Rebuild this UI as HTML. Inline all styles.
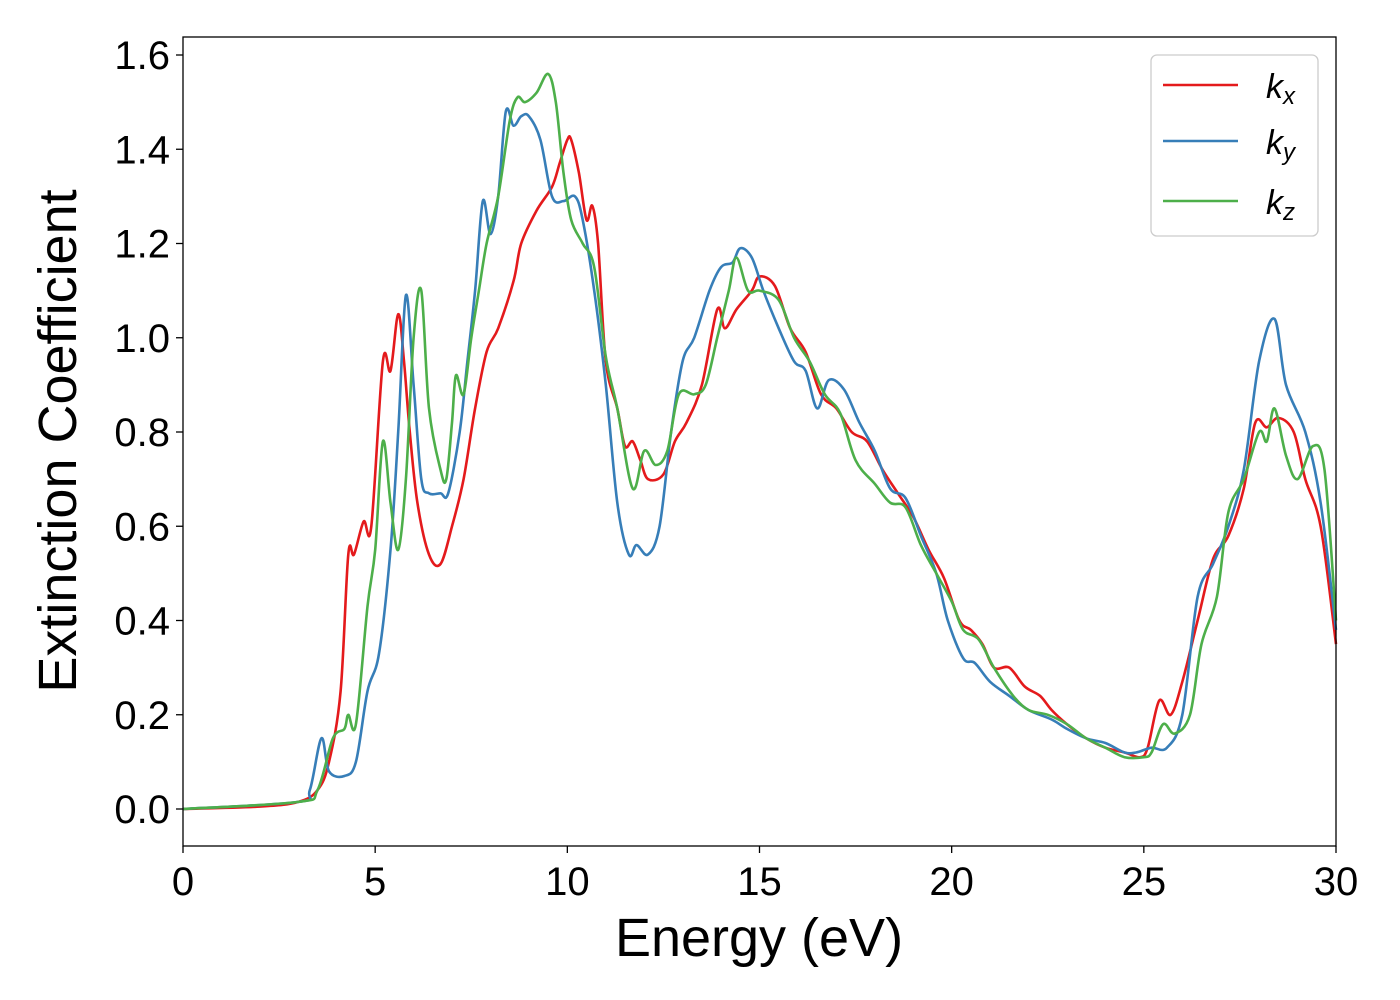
<!DOCTYPE html>
<html><head><meta charset="utf-8">
<style>
body{margin:0;background:#fff;}
svg{display:block;font-family:"Liberation Sans","DejaVu Sans",sans-serif;}
</style></head>
<body>
<svg id="chart" width="1400" height="1000" viewBox="0 0 1400 1000" xmlns="http://www.w3.org/2000/svg">
<rect width="1400" height="1000" fill="#fff"/>
<g id="series"></g>
<rect x="183" y="37" width="1153" height="809" fill="none" stroke="#000" stroke-width="1.3"/>
<g id="xticks"></g>
<g id="yticks"></g>
<text x="759" y="956" font-size="54" text-anchor="middle">Energy (eV)</text>
<text transform="translate(76,441) rotate(-90)" font-size="54" text-anchor="middle">Extinction Coefficient</text>
<g>
<rect x="1151" y="55" width="167" height="181" rx="6" fill="#fff" stroke="#ccc" stroke-width="1.3"/>
<g><line x1="1163" y1="85" x2="1238" y2="85" stroke="#e41a1c" stroke-width="2.5"/><text x="1266" y="98" font-size="34" font-style="italic">k<tspan font-size="24" dy="6">x</tspan></text></g>
<g><line x1="1163" y1="141" x2="1238" y2="141" stroke="#377eb8" stroke-width="2.5"/><text x="1266" y="154" font-size="34" font-style="italic">k<tspan font-size="24" dy="6">y</tspan></text></g>
<g><line x1="1163" y1="201" x2="1238" y2="201" stroke="#4daf4a" stroke-width="2.5"/><text x="1266" y="214" font-size="34" font-style="italic">k<tspan font-size="24" dy="6">z</tspan></text></g>
</g>
</svg>
<script>
const xTicks=[0,5,10,15,20,25,30];
const yTicks=[0.0,0.2,0.4,0.6,0.8,1.0,1.2,1.4,1.6];
const seriesNames=["kx","ky","kz"];
const seriesColors=["#e41a1c","#377eb8","#4daf4a"];
const kxE=[0,2,3,3.5,3.8,4.1,4.3,4.45,4.7,4.9,5.2,5.4,5.6,5.75,5.9,6.1,6.4,6.7,7,7.3,7.6,7.9,8.2,8.6,8.8,9.2,9.6,9.8,10,10.1,10.3,10.5,10.65,10.8,11,11.3,11.5,11.7,11.9,12.1,12.5,12.8,13.1,13.5,13.9,14.1,14.4,14.8,15,15.4,15.8,16.2,16.6,17,17.4,17.8,18.2,18.6,19,19.4,19.8,20.2,20.5,20.8,21.1,21.5,21.9,22.3,22.6,23,23.5,24,24.5,24.9,25.1,25.4,25.7,26,26.4,26.8,27.2,27.6,27.9,28.2,28.5,28.9,29.2,29.6,30];
const kxV=[0,0.005,0.015,0.04,0.1,0.25,0.54,0.54,0.61,0.6,0.95,0.93,1.05,0.95,0.8,0.65,0.54,0.52,0.6,0.7,0.85,0.97,1.02,1.12,1.2,1.27,1.32,1.37,1.42,1.42,1.35,1.25,1.28,1.2,0.95,0.85,0.77,0.78,0.74,0.70,0.71,0.78,0.82,0.9,1.06,1.02,1.06,1.1,1.13,1.11,1.02,0.97,0.88,0.85,0.8,0.78,0.72,0.67,0.62,0.55,0.49,0.40,0.38,0.35,0.3,0.3,0.26,0.24,0.21,0.18,0.15,0.13,0.12,0.11,0.13,0.23,0.2,0.27,0.4,0.53,0.58,0.68,0.82,0.81,0.83,0.8,0.7,0.6,0.35];
const kyE=[0,3,3.3,3.6,3.8,4.2,4.5,4.8,5.1,5.4,5.6,5.8,6.0,6.2,6.4,6.7,6.9,7.2,7.4,7.6,7.8,8.0,8.2,8.4,8.6,8.8,9.0,9.3,9.6,9.9,10.2,10.4,10.7,11,11.3,11.6,11.8,12.1,12.4,12.7,13.0,13.3,13.7,14.0,14.3,14.5,14.8,15.1,15.5,15.9,16.2,16.5,16.8,17.2,17.6,18.0,18.4,18.8,19.2,19.6,19.9,20.3,20.6,21,21.5,22,22.6,23,23.5,24,24.5,24.8,25.2,25.6,26,26.4,26.8,27.2,27.6,28,28.4,28.7,29.2,29.6,30];
const kyV=[0,0.015,0.04,0.15,0.08,0.07,0.1,0.25,0.33,0.55,0.8,1.09,0.9,0.7,0.67,0.67,0.67,0.8,0.95,1.1,1.29,1.22,1.3,1.48,1.45,1.47,1.47,1.42,1.3,1.29,1.3,1.25,1.1,0.9,0.65,0.54,0.56,0.54,0.6,0.8,0.95,1.0,1.1,1.15,1.16,1.19,1.17,1.1,1.02,0.95,0.93,0.85,0.91,0.89,0.82,0.76,0.68,0.66,0.58,0.5,0.4,0.32,0.31,0.27,0.24,0.21,0.19,0.17,0.15,0.14,0.12,0.12,0.13,0.13,0.2,0.45,0.52,0.6,0.72,0.95,1.04,0.9,0.8,0.65,0.38];
const kzE=[0,3,3.5,3.9,4.2,4.3,4.5,4.8,5.0,5.2,5.4,5.6,5.8,6.0,6.2,6.4,6.7,6.85,7.0,7.1,7.3,7.5,7.7,7.9,8.2,8.5,8.7,8.9,9.2,9.5,9.7,9.9,10.1,10.4,10.7,11,11.3,11.7,12.0,12.3,12.6,12.9,13.3,13.6,13.9,14.2,14.4,14.7,15.0,15.5,15.9,16.3,16.7,17.1,17.5,18,18.4,18.8,19.2,19.6,20,20.3,20.7,21.1,21.6,22,22.5,23,23.5,24,24.5,25,25.2,25.5,25.8,26.2,26.5,26.9,27.2,27.6,28,28.2,28.4,28.7,29,29.4,29.7,30];
const kzV=[0,0.015,0.04,0.15,0.17,0.2,0.18,0.43,0.55,0.78,0.65,0.55,0.7,1.0,1.1,0.85,0.72,0.7,0.82,0.92,0.88,1.0,1.1,1.2,1.3,1.46,1.51,1.5,1.52,1.56,1.5,1.35,1.25,1.2,1.15,0.96,0.85,0.68,0.76,0.73,0.76,0.88,0.88,0.9,1.0,1.1,1.17,1.1,1.1,1.08,1.0,0.95,0.88,0.84,0.74,0.69,0.65,0.64,0.56,0.5,0.44,0.38,0.36,0.3,0.24,0.21,0.2,0.18,0.15,0.13,0.11,0.11,0.12,0.18,0.16,0.2,0.35,0.45,0.63,0.7,0.8,0.78,0.85,0.75,0.7,0.77,0.72,0.4];
const seriesE=[kxE,kyE,kzE], seriesV=[kxV,kyV,kzV];

const X0=183,X1=1336,Y0=809,PPU=471.25;
function xs(e){return X0+(e-0)/30*(X1-X0);}
function ys(v){return Y0-v*PPU;}
const NS="http://www.w3.org/2000/svg";
const xg=document.getElementById('xticks'),yg=document.getElementById('yticks'),sg=document.getElementById('series');
xTicks.forEach(t=>{
  const l=document.createElementNS(NS,'line');
  
  
  l.setAttribute('x1',xs(t));l.setAttribute('x2',xs(t));l.setAttribute('y1',846);l.setAttribute('y2',853);l.setAttribute('stroke','#000');l.setAttribute('stroke-width','1.3');
  xg.appendChild(l);
  const tx=document.createElementNS(NS,'text');
  
  
  tx.setAttribute('x',xs(t));tx.setAttribute('y',895);tx.setAttribute('font-size','40');tx.setAttribute('text-anchor','middle');
  tx.textContent=t;xg.appendChild(tx);
});
yTicks.forEach(t=>{
  const l=document.createElementNS(NS,'line');
  
  
  l.setAttribute('x1',176);l.setAttribute('x2',183);l.setAttribute('y1',ys(t));l.setAttribute('y2',ys(t));l.setAttribute('stroke','#000');l.setAttribute('stroke-width','1.3');
  yg.appendChild(l);
  const tx=document.createElementNS(NS,'text');
  
  
  tx.setAttribute('x',170);tx.setAttribute('y',ys(t)+14);tx.setAttribute('font-size','40');tx.setAttribute('text-anchor','end');
  tx.textContent=t.toFixed(1);yg.appendChild(tx);
});
seriesNames.forEach((n,i)=>{
  const E=seriesE[i],V=seriesV[i];
  const pts=E.map((e,j)=>[xs(e),ys(V[j])]);
  let d='M'+pts[0][0]+','+pts[0][1];
  for(let j=0;j<pts.length-1;j++){
    const p0=pts[Math.max(0,j-1)],p1=pts[j],p2=pts[j+1],p3=pts[Math.min(pts.length-1,j+2)];
    const c1=[p1[0]+(p2[0]-p0[0])/6,p1[1]+(p2[1]-p0[1])/6];
    const c2=[p2[0]-(p3[0]-p1[0])/6,p2[1]-(p3[1]-p1[1])/6];
    d+=' C'+c1[0].toFixed(1)+','+c1[1].toFixed(1)+' '+c2[0].toFixed(1)+','+c2[1].toFixed(1)+' '+p2[0].toFixed(1)+','+p2[1].toFixed(1);
  }
  const p=document.createElementNS(NS,'path');
  
  
  p.setAttribute('d',d);p.setAttribute('fill','none');p.setAttribute('stroke',seriesColors[i]);p.setAttribute('stroke-width','2.6');p.setAttribute('stroke-linejoin','round');
  sg.appendChild(p);
});
</script>
</body></html>
